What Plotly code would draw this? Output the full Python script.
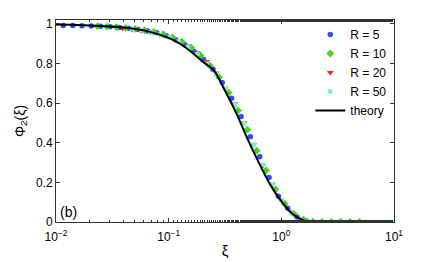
import plotly.graph_objects as go

# theory curve
xi_theory = [0.01, 0.0158, 0.0251, 0.0398, 0.0631, 0.1, 0.126, 0.158, 0.2, 0.251,
             0.316, 0.398, 0.501, 0.631, 0.794, 1.0, 1.26, 1.58, 1.9]
phi_theory = [0.997, 0.995, 0.99, 0.982, 0.965, 0.93, 0.90, 0.86, 0.81, 0.767,
              0.664, 0.55, 0.42, 0.30, 0.19, 0.105, 0.04, 0.008, 0.0]

# R = 5
xi_r5 = [0.0116, 0.0141, 0.0170, 0.0206, 0.0249, 0.0302, 0.0366, 0.0443, 0.0536, 0.0649,
         0.0785, 0.0951, 0.115, 0.139, 0.169, 0.204, 0.247, 0.299, 0.362, 0.439,
         0.531, 0.643, 0.778, 0.942, 1.14, 1.38, 1.67]
phi_r5 = [0.992, 0.992, 0.991, 0.99, 0.988, 0.986, 0.982, 0.978, 0.972, 0.965,
          0.955, 0.94, 0.92, 0.895, 0.86, 0.82, 0.771, 0.704, 0.625, 0.533,
          0.43, 0.33, 0.225, 0.13, 0.07, 0.025, 0.005]

# R = 10
xi_r10 = [0.0234, 0.0284, 0.0344, 0.0416, 0.0504, 0.0610, 0.0738, 0.0893, 0.108, 0.131,
          0.159, 0.192, 0.232, 0.281, 0.340, 0.412, 0.499, 0.604, 0.731, 0.885,
          1.07, 1.30, 1.57, 1.90, 2.30, 2.79, 3.37, 4.08, 4.94]
phi_r10 = [0.989, 0.987, 0.984, 0.98, 0.975, 0.968, 0.96, 0.948, 0.932, 0.91,
           0.88, 0.84, 0.79, 0.73, 0.653, 0.563, 0.466, 0.36, 0.26, 0.165,
           0.092, 0.04, 0.012, 0.002, 0.0, 0.0, 0.0, 0.0, 0.0]

# R = 20
xi_r20 = [0.0389, 0.0471, 0.0570, 0.0690, 0.0836, 0.101, 0.123, 0.148, 0.180, 0.217,
          0.263, 0.318, 0.386, 0.467, 0.565, 0.684, 0.828, 1.00, 1.21, 1.47,
          1.78, 2.15, 2.61, 3.16, 3.82, 4.62, 5.60]
phi_r20 = [0.978, 0.972, 0.966, 0.958, 0.947, 0.935, 0.915, 0.89, 0.855, 0.81,
           0.752, 0.675, 0.596, 0.50, 0.39, 0.285, 0.19, 0.11, 0.05, 0.015,
           0.003, 0.0, 0.0, 0.0, 0.0, 0.0, 0.0]

# R = 50
xi_r50 = [0.0473, 0.0573, 0.0694, 0.0840, 0.102, 0.123, 0.149, 0.180, 0.218, 0.264,
          0.320, 0.387, 0.469, 0.568, 0.687, 0.832, 1.01, 1.22, 1.48, 1.79,
          2.16, 2.62, 3.17, 3.84, 4.65, 5.62, 6.81, 8.24, 9.98]
phi_r50 = [0.975, 0.968, 0.958, 0.947, 0.933, 0.912, 0.885, 0.848, 0.80, 0.745,
           0.672, 0.59, 0.495, 0.39, 0.29, 0.19, 0.105, 0.045, 0.012, 0.002,
           0.0, 0.0, 0.0, 0.0, 0.0, 0.0, 0.0, 0.0, 0.0]

series_names = ["R = 5", "R = 10", "R = 20", "R = 50"]
x_tick_vals = [0.01, 0.1, 1, 10]
x_tick_text = ["10<sup>−2</sup>", "10<sup>−1</sup>", "10<sup>0</sup>", "10<sup>1</sup>"]
y_tick_vals = [0, 0.2, 0.4, 0.6, 0.8, 1]
y_tick_text = ["0", "0.2", "0.4", "0.6", "0.8", "1"]

FONT = "Liberation Sans, Arial, Helvetica, sans-serif"

fig = go.Figure()
fig.add_trace(go.Scatter(x=xi_r5, y=phi_r5, mode="markers", name=series_names[0],
                         marker=dict(symbol="circle", size=5.5, color="#2b4cff")))
fig.add_trace(go.Scatter(x=xi_r10, y=phi_r10, mode="markers", name=series_names[1],
                         marker=dict(symbol="diamond", size=6, color="#44d615")))
fig.add_trace(go.Scatter(x=xi_r20, y=phi_r20, mode="markers", name=series_names[2],
                         marker=dict(symbol="triangle-down", size=6, color="#ff1a1a")))
fig.add_trace(go.Scatter(x=xi_r50, y=phi_r50, mode="markers", name=series_names[3],
                         marker=dict(symbol="square", size=4.5, color="#72f5cf")))
fig.add_trace(go.Scatter(x=xi_theory, y=phi_theory, mode="lines", name="theory",
                         line=dict(color="black", width=2, shape="spline", smoothing=0.8)))

axis_common = dict(showline=True, linecolor="#333", linewidth=1, mirror="ticks",
                   ticks="inside", tickcolor="#333", showgrid=False, zeroline=False,
                   automargin=False,
                   tickfont=dict(family=FONT, size=12, color="black"))

fig.update_layout(
    width=436, height=262,
    margin=dict(l=56, r=42, t=20, b=40, autoexpand=False),
    paper_bgcolor="white", plot_bgcolor="white",
    font=dict(family=FONT, size=12, color="black"),
    xaxis=dict(type="log", range=[-2, 1], tickvals=x_tick_vals, ticktext=x_tick_text,
               ticklen=4, ticklabelstandoff=4,
               minor=dict(ticks="inside", ticklen=2, tickcolor="#333", showgrid=False),
               title=dict(text="ξ", font=dict(family=FONT, size=15), standoff=2),
               **axis_common),
    yaxis=dict(range=[0, 1.02], tickvals=y_tick_vals, ticktext=y_tick_text, ticklen=4,
               title=dict(text="Φ<sub>2</sub>(ξ)", font=dict(family=FONT, size=14), standoff=7),
               **axis_common),
    legend=dict(x=0.995, y=1.0, xanchor="right", yanchor="top", bgcolor="rgba(0,0,0,0)",
                font=dict(family=FONT, size=12), itemwidth=30, tracegroupgap=0),
    showlegend=True,
)
fig.add_annotation(text="(b)", xref="paper", yref="paper", x=0.005, y=0.0,
                   xanchor="left", yanchor="bottom", showarrow=False,
                   font=dict(family=FONT, size=14, color="black"))

fig.write_html("out.html", config={"displayModeBar": False},
               post_script="document.body.style.margin='0';")
